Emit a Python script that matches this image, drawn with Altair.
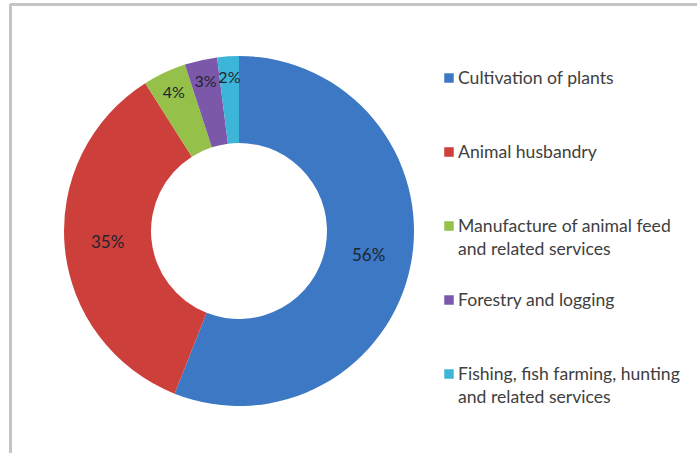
import altair as alt
import pandas as pd

categories = [
    "Cultivation of plants",
    "Animal husbandry",
    "Manufacture of animal feed and related services",
    "Forestry and logging",
    "Fishing, fish farming, hunting and related services",
]
legend_text = [
    "Cultivation of plants",
    "Animal husbandry",
    "Manufacture of animal feed|and related services",
    "Forestry and logging",
    "Fishing, fish farming, hunting|and related services",
]
shares = [56, 35, 4, 3, 2]
pct_labels = ["56%", "35%", "4%", "3%", "2%"]
colors = ["#3c78c4", "#cd3f3b", "#95c04a", "#7b58a9", "#3db5d8"]

df = pd.DataFrame({
    "category": categories,
    "legend": legend_text,
    "share": shares,
    "label": pct_labels,
    "ord": list(range(len(categories))),
})

W, H = 697, 453
CX, CY = 239, 231
FONT = "Lato"

color = alt.Color("category:N", scale=alt.Scale(domain=categories, range=colors), legend=None)
theta = alt.Theta("share:Q", stack=True)
order = alt.Order("ord:Q")

base = alt.Chart(df)

donut = base.mark_arc(innerRadius=88, outerRadius=175).encode(
    theta=theta, order=order, color=color,
    x=alt.value(CX), y=alt.value(CY),
)

big_labels = base.mark_text(radius=132, fontSize=17, font=FONT, color="#1e2430").encode(
    theta=theta, order=order,
    text=alt.condition("datum.share >= 10", alt.Text("label:N"), alt.value("")),
    x=alt.value(CX), y=alt.value(CY),
)

small_labels = base.mark_text(radius=153, fontSize=16, font=FONT, color="#1e2430").encode(
    theta=theta, order=order,
    text=alt.condition("datum.share < 10", alt.Text("label:N"), alt.value("")),
    x=alt.value(CX), y=alt.value(CY),
)

ly = alt.Y("ord:Q", scale=alt.Scale(domain=[0, 4], range=[84, 380]), axis=None)

legend_sq = base.mark_square(size=90, opacity=1, yOffset=-6).encode(
    x=alt.value(449), y=ly, color=color,
)

legend_txt = base.transform_calculate(lines="split(datum.legend, '|')").mark_text(
    align="left", baseline="alphabetic", fontSize=17.6, font=FONT, color="#404040", lineHeight=23,
).encode(
    x=alt.value(458), y=ly, text="lines:N",
)

border_left = base.mark_rule(color="#c4c4c4", strokeWidth=3).encode(
    x=alt.value(10.5), y=alt.value(4), y2=alt.value(H),
)
border_top = base.mark_rule(color="#c4c4c4", strokeWidth=2).encode(
    x=alt.value(10), x2=alt.value(W), y=alt.value(4.5),
)

chart = alt.layer(
    donut, big_labels, small_labels, legend_sq, legend_txt, border_left, border_top
).properties(
    width=W, height=H, padding=0, autosize=alt.AutoSizeParams(type="none"),
    background="white",
).configure_view(stroke=None)

chart.save("out.html", embed_options={"renderer": "svg", "actions": False})
